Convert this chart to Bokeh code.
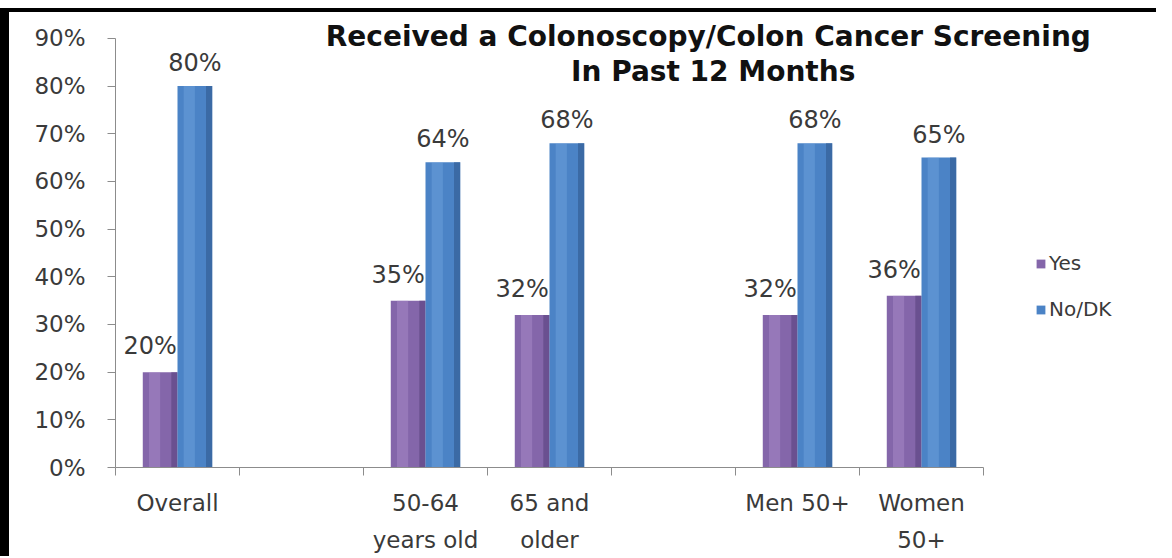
from bokeh.plotting import figure
from bokeh.models import (ColumnDataSource, Range1d, FixedTicker, Label, Legend,
                          LegendItem)
from bokeh.core.properties import value
from bokeh.transform import dodge
from bokeh.embed import file_html
from bokeh.resources import INLINE

# ---- data ----
categories = ["Overall", "", "50-64\nyears old", "65 and\nolder", "", "Men 50+", "Women\n50+"]
yes_vals = [0.20, None, 0.35, 0.32, None, 0.32, 0.36]
no_vals = [0.80, None, 0.64, 0.68, None, 0.68, 0.65]
series_names = ["Yes", "No/DK"]
title_lines = ["Received a Colonoscopy/Colon  Cancer Screening", "In Past 12 Months"]
y_ticks = [0, 0.1, 0.2, 0.3, 0.4, 0.5, 0.6, 0.7, 0.8, 0.9]

# build table (skip empty slots)
xs, ys, ns = [], [], []
for i, (y, n) in enumerate(zip(yes_vals, no_vals)):
    if y is None:
        continue
    xs.append(i + 0.5)
    ys.append(y)
    ns.append(n)
src = ColumnDataSource(dict(
    x=xs, yes=ys, no=ns,
    yes_lbl=[f"{round(v*100)}%" for v in ys],
    no_lbl=[f"{round(v*100)}%" for v in ns],
))

FONT = value("DejaVu Sans")
TXT = "#3a3a3a"
AX = "#8c8c8c"

W, H = 1156, 556
p = figure(width=W, height=H, output_backend="svg", toolbar_location=None,
           x_range=Range1d(0, 1041 / 124), y_range=Range1d(0, 468 / 477.8),
           min_border_left=115, min_border_right=0, min_border_top=0, min_border_bottom=88)
p.outline_line_color = None
p.grid.visible = False
p.background_fill_alpha = 0
p.border_fill_alpha = 0
p.styles = {
    "background": "linear-gradient(#000, #000) 0 8px / 100% 4px no-repeat, "
                  "linear-gradient(#000, #000) 0 8px / 9px 100% no-repeat, #ffffff",
}

# bars: base + highlight + shadow for a cylinder-like look
BW = 0.28
specs = [("yes", -0.14, "#8466aa", "#b79bd6", "#5f4785"),
         ("no", 0.14, "#4b83c6", "#7fb0e6", "#345f97")]
base_renderers = []
for col, off, c_mid, c_hi, c_sh in specs:
    r = p.vbar(x=dodge("x", off, range=p.x_range), top=col, width=BW, bottom=0,
               source=src, fill_color=c_mid, line_color=None)
    base_renderers.append(r)
    p.vbar(x=dodge("x", off - 0.045, range=p.x_range), top=col, width=0.09, bottom=0,
           source=src, fill_color=c_hi, fill_alpha=0.35, line_color=None)
    p.vbar(x=dodge("x", off + 0.115, range=p.x_range), top=col, width=0.05, bottom=0,
           source=src, fill_color=c_sh, fill_alpha=0.7, line_color=None)

# data labels
p.text(x=dodge("x", -0.14, range=p.x_range), y="yes", text="yes_lbl", source=src,
       text_font=FONT, text_font_size="24px", text_color=TXT,
       text_align="center", text_baseline="bottom", x_offset=-10, y_offset=-12)
p.text(x=dodge("x", 0.14, range=p.x_range), y="no", text="no_lbl", source=src,
       text_font=FONT, text_font_size="24px", text_color=TXT,
       text_align="center", text_baseline="bottom", y_offset=-9)

# axes
xa = p.xaxis[0]
xa.bounds = (0, len(categories))
xa.ticker = FixedTicker(ticks=[i + 0.5 for i in range(len(categories))],
                        minor_ticks=list(range(len(categories) + 1)))
xa.major_label_overrides = {i + 0.5: c for i, c in enumerate(categories)}
xa.major_tick_line_color = None
xa.major_tick_out = 0
xa.major_tick_in = 0
xa.minor_tick_line_color = AX
xa.minor_tick_out = 8
xa.minor_tick_in = 0
xa.axis_line_color = AX
xa.major_label_text_font = "DejaVu Sans"
xa.major_label_text_font_size = "23px"
xa.major_label_text_color = TXT
xa.major_label_text_line_height = 1.45
xa.major_label_standoff = 14

ya = p.yaxis[0]
ya.bounds = (0, 0.9)
ya.ticker = FixedTicker(ticks=y_ticks)
ya.major_label_overrides = {t: f"{round(t*100)}%" for t in y_ticks}
ya.minor_tick_line_color = None
ya.major_tick_out = 8
ya.major_tick_in = 0
ya.major_tick_line_color = AX
ya.axis_line_color = AX
ya.major_label_text_font = "DejaVu Sans"
ya.major_label_text_font_size = "23px"
ya.major_label_text_color = TXT
ya.major_label_standoff = 22

# title inside the plot
p.add_layout(Label(x=4.82, y=0.903, text=title_lines[0], text_font="DejaVu Sans",
                   text_font_style="bold", text_font_size="28px", text_color="#111111",
                   text_align="center", text_baseline="middle"))
p.add_layout(Label(x=4.82, y=0.830, text=title_lines[1], text_font="DejaVu Sans",
                   text_font_style="bold", text_font_size="28px", text_color="#111111",
                   text_align="center", text_baseline="middle"))

# legend
legend = Legend(items=[LegendItem(label=n, renderers=[r]) for n, r in zip(series_names, base_renderers)],
                location=(920, 146), orientation="vertical",
                label_text_font="DejaVu Sans", label_text_font_size="20px",
                label_text_color=TXT, glyph_width=11, glyph_height=11,
                label_standoff=3, spacing=22, padding=0, margin=0,
                border_line_color=None, background_fill_alpha=0)
p.add_layout(legend)

open("out.html", "w").write(file_html(p, INLINE))
